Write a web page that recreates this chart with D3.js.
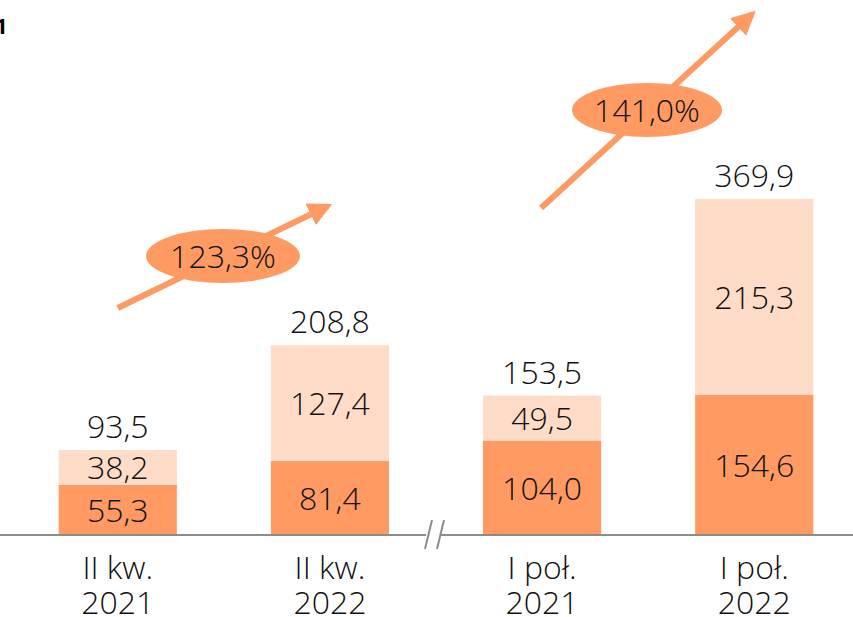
<!DOCTYPE html>
<html>
<head>
<meta charset="utf-8">
<script src="https://cdn.jsdelivr.net/npm/d3@7"></script>
<style>
body { margin: 0; background: #fff; }
text { font-family: "Open Sans", sans-serif; font-weight: 300; fill: #111; }
</style>
</head>
<body>
<div id="chart"></div>
<script>
var categories = [["II kw.", "2021"], ["II kw.", "2022"], ["I poł.", "2021"], ["I poł.", "2022"]];
var lower = [55.3, 81.4, 104.0, 154.6];
var upper = [38.2, 127.4, 49.5, 215.3];
var totals = [93.5, 208.8, 153.5, 369.9];
var growth = ["123,3%", "141,0%"];

var fmt = function(v) { return v.toFixed(1).replace(".", ","); };

var width = 853, height = 617;
var baseY = 535;

var svg = d3.select("#chart")
.append("svg")
.attr("width", width)
.attr("height", height);

var x = d3.scaleBand()
.domain(d3.range(categories.length))
.range([12, 12 + 212 * 4])
.paddingInner(0.443)
.paddingOuter(0.22);

var y = d3.scaleLinear()
.domain([0, 369.9])
.range([baseY, 199]);

var dark = "#fe9a62", light = "#fedcc8";

// bars
svg.selectAll(".lo")
  .data(lower)
  .enter()
  .append("rect")
    .attr("x", function(d, i) { return x(i); })
    .attr("y", function(d) { return y(d); })
    .attr("width", x.bandwidth())
    .attr("height", function(d) { return baseY - y(d); })
    .attr("fill", dark);

svg.selectAll(".up")
  .data(upper)
  .enter()
  .append("rect")
    .attr("x", function(d, i) { return x(i); })
    .attr("y", function(d, i) { return y(lower[i] + d); })
    .attr("width", x.bandwidth())
    .attr("height", function(d, i) { return y(lower[i]) - y(lower[i] + d); })
    .attr("fill", light);

// value labels
var cx = function(i) { return x(i) + x.bandwidth() / 2; };

svg.selectAll(".lol")
  .data(lower)
  .enter()
  .append("text")
    .attr("x", function(d, i) { return cx(i); })
    .attr("y", function(d) { return (y(d) + baseY) / 2 + 12; })
    .attr("text-anchor", "middle")
    .style("font-size", "32px")
    .text(fmt);

svg.selectAll(".upl")
  .data(upper)
  .enter()
  .append("text")
    .attr("x", function(d, i) { return cx(i); })
    .attr("y", function(d, i) { return (y(lower[i]) + y(lower[i] + d)) / 2 + 12; })
    .attr("text-anchor", "middle")
    .style("font-size", "32px")
    .text(fmt);

svg.selectAll(".tot")
  .data(totals)
  .enter()
  .append("text")
    .attr("x", function(d, i) { return cx(i); })
    .attr("y", function(d) { return y(d) - 12; })
    .attr("text-anchor", "middle")
    .style("font-size", "32px")
    .text(fmt);

// axis line with break
svg.append("line")
  .attr("x1", 0).attr("x2", width)
  .attr("y1", baseY).attr("y2", baseY)
  .attr("stroke", "#8c8c8c").attr("stroke-width", 2);
svg.append("rect")
  .attr("x", 426).attr("y", baseY - 3).attr("width", 14).attr("height", 6)
  .attr("fill", "#fff");
[0, 12].forEach(function(o) {
  svg.append("line")
    .attr("x1", 432 + o).attr("y1", 520)
    .attr("x2", 425 + o).attr("y2", 549)
    .attr("stroke", "#8c8c8c").attr("stroke-width", 2);
});

// category labels
var lab = svg.selectAll(".cat")
  .data(categories)
  .enter()
  .append("text")
    .attr("text-anchor", "middle")
    .style("font-size", "32px");
lab.append("tspan")
  .attr("x", function(d, i) { return cx(i); })
  .attr("y", 579)
  .text(function(d) { return d[0]; });
lab.append("tspan")
  .attr("x", function(d, i) { return cx(i); })
  .attr("y", 614)
  .text(function(d) { return d[1]; });

// growth arrows
svg.append("defs").append("marker")
  .attr("id", "ah")
  .attr("viewBox", "0 0 10 10")
  .attr("refX", 8).attr("refY", 5)
  .attr("markerWidth", 4).attr("markerHeight", 4)
  .attr("orient", "auto")
  .append("path")
  .attr("d", "M0,0 L10,5 L0,10 z")
  .attr("fill", dark);

var arrows = [
  {x1: cx(0), y1: 308, x2: cx(1) - 2, y2: 206, ex: 223, ey: 256, rx: 77, ry: 27},
  {x1: cx(2) - 1, y1: 208, x2: cx(3) - 2, y2: 14, ex: 647, ey: 110, rx: 75, ry: 27}
];

arrows.forEach(function(a, i) {
  svg.append("line")
    .attr("x1", a.x1).attr("y1", a.y1)
    .attr("x2", a.x2).attr("y2", a.y2)
    .attr("stroke", dark).attr("stroke-width", 6)
    .attr("marker-end", "url(#ah)");
  svg.append("ellipse")
    .attr("cx", a.ex).attr("cy", a.ey)
    .attr("rx", a.rx).attr("ry", a.ry)
    .attr("fill", dark);
  svg.append("text")
    .attr("x", a.ex).attr("y", a.ey + 12)
    .attr("text-anchor", "middle")
    .style("font-size", "32px")
    .text(growth[i]);
});

// clipped heading fragment
svg.append("text")
  .attr("x", -5).attr("y", 34)
  .style("font-size", "22px")
  .style("font-weight", "700")
  .style("fill", "#000")
  .text("1");
</script>
</body>
</html>
